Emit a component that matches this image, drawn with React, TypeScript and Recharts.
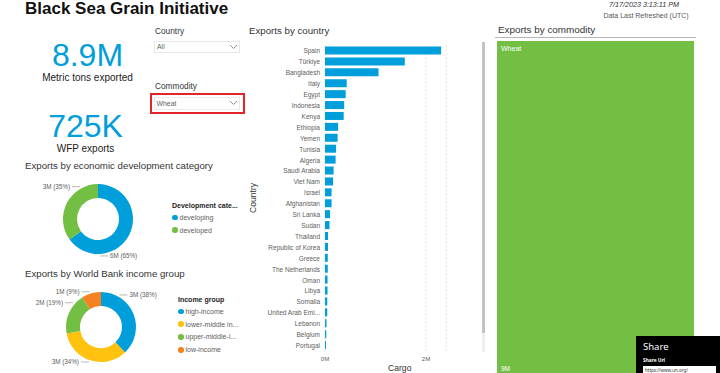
import React from "react";
import { Bar, BarChart, CartesianGrid, Cell, Pie, PieChart, Treemap, XAxis, YAxis } from "recharts";

// cargo figures in millions of metric tons
const countries = [
  "Spain", "Türkiye", "Bangladesh", "Italy", "Egypt", "Indonesia", "Kenya", "Ethiopia",
  "Yemen", "Tunisia", "Algeria", "Saudi Arabia", "Viet Nam", "Israel", "Afghanistan",
  "Sri Lanka", "Sudan", "Thailand", "Republic of Korea", "Greece", "The Netherlands",
  "Oman", "Libya", "Somalia", "United Arab Emi...", "Lebanon", "Belgium", "Portugal"
];
const countryCargo = [
  2.3, 1.58, 1.06, 0.43, 0.41, 0.38, 0.37, 0.26, 0.25, 0.22, 0.21, 0.17, 0.16, 0.13,
  0.13, 0.1, 0.09, 0.06, 0.06, 0.055, 0.055, 0.05, 0.05, 0.045, 0.045, 0.03, 0.025, 0.02
];
const cargoTicks = [0, 2];

const devCategories = ["developing", "developed"];
const devCargo = [5.79, 3.11];

const incomeGroups = ["high-income", "lower-middle income", "upper-middle-income", "low-income"];
const incomeLegend = ["high-income", "lower-middle in...", "upper-middle-i...", "low-income"];
const incomeCargo = [3.38, 3.03, 1.69, 0.8];

const commodities = ["Wheat"];
const commodityCargo = [8.9];

const totalTons = "8.9M";
const wfpExports = "725K";
const refreshed = "7/17/2023 3:13:11 PM";

const FONT = '"Liberation Sans", Arial, sans-serif';
const BLUE = "#009edb";
const GREEN = "#72bf44";
const YELLOW = "#ffc20e";
const ORANGE = "#f58220";
const GREY = "#605e5c";
const DARK = "#252423";

const devColors = [BLUE, GREEN];
const incomeColors = [BLUE, YELLOW, GREEN, ORANGE];

// where the leader line leaves the ring (degrees), per slice
const LABEL_ANGLE: Record<string, number> = {
  developing: -87,
  developed: 119,
  "high-income": 60,
  "lower-middle income": -109,
  "upper-middle-income": 139,
  "low-income": 108
};

const countryData = countries.map((country, i) => ({ country, cargo: countryCargo[i] }));
const devData = devCategories.map((name, i) => ({ name, value: devCargo[i] }));
const incomeData = incomeGroups.map((name, i) => ({ name, value: incomeCargo[i] }));
const commodityData = commodities.map((name, i) => ({ name, value: commodityCargo[i] }));

function donutLabel(props: any) {
  const { cx, cy, outerRadius, value, percent, midAngle } = props;
  const name = props.name ?? props.payload?.name;
  const a = ((LABEL_ANGLE[name] ?? midAngle) * Math.PI) / 180;
  const r = outerRadius + 2;
  const x0 = cx + r * Math.cos(a);
  const y0 = cy - r * Math.sin(a);
  const dir = Math.cos(a) >= 0 ? 1 : -1;
  return (
    <g>
      <line x1={x0} y1={y0} x2={x0 + dir * 8} y2={y0} stroke="#a8a6a4" strokeWidth={0.8} />
      <text
        x={x0 + dir * 10}
        y={y0}
        textAnchor={dir > 0 ? "start" : "end"}
        dominantBaseline="central"
        fontSize={6.3}
        fontFamily={FONT}
        fill={GREY}
      >
        {`${Math.round(value)}M (${Math.round(percent * 100)}%)`}
      </text>
    </g>
  );
}

function CountryTick({ x, y, payload }: any) {
  return (
    <text x={x} y={y} textAnchor="end" dominantBaseline="central" fontSize={6.5} fontFamily={FONT} fill={GREY}>
      {payload.value}
    </text>
  );
}

function Chevron({ x, y }: { x: number; y: number }) {
  return (
    <svg style={{ position: "absolute", left: x, top: y }} width={9} height={6}>
      <polyline points="1,1 4.5,4.5 8,1" fill="none" stroke="#8a8886" strokeWidth={0.9} />
    </svg>
  );
}

function TreemapCell(props: any) {
  const { x, y, width, height, depth, name, value } = props;
  if (depth !== 1) return null;
  return (
    <g>
      <rect x={x} y={y} width={width} height={height} fill={GREEN} stroke="none" />
      <text x={x + 4} y={y + 10} fontSize={7} fontFamily={FONT} fill="#fff">
        {name}
      </text>
      <text x={x + 4} y={y + height - 5} fontSize={6.5} fontFamily={FONT} fill="#fff">
        {`${Math.round(value)}M`}
      </text>
    </g>
  );
}

const abs = (left: number, top: number, extra: React.CSSProperties = {}): React.CSSProperties => ({
  position: "absolute",
  left,
  top,
  ...extra
});

function Legend({ x, y, title, labels, colors }: { x: number; y: number; title: string; labels: string[]; colors: string[] }) {
  return (
    <div style={abs(x, y)}>
      <div style={{ fontSize: 7, fontWeight: "bold", color: DARK, lineHeight: "10px", whiteSpace: "nowrap" }}>{title}</div>
      {labels.map((l, i) => (
        <div key={l} style={{ display: "flex", alignItems: "center", height: 12.8, fontSize: 7, color: GREY, whiteSpace: "nowrap" }}>
          <span style={{ width: 5.5, height: 5.5, borderRadius: "50%", background: colors[i], marginRight: 2, display: "inline-block" }} />
          {l}
        </div>
      ))}
    </div>
  );
}

export default function App() {
  return (
    <div style={{ position: "absolute", left: 0, top: 0, width: 720, height: 373, overflow: "hidden", background: "#fff", fontFamily: FONT }}>
      <div style={abs(25, -1, { fontSize: 17, fontWeight: "bold", color: "#111", lineHeight: "20px", whiteSpace: "nowrap" })}>
        Black Sea Grain Initiative
      </div>

      {/* KPI cards */}
      <div style={abs(0, 39, { width: 175, textAlign: "center", fontSize: 32, color: BLUE, lineHeight: "32px" })}>{totalTons}</div>
      <div style={abs(0, 72, { width: 175, textAlign: "center", fontSize: 10, color: "#222", lineHeight: "12px" })}>
        Metric tons exported
      </div>
      <div style={abs(0, 110, { width: 171, textAlign: "center", fontSize: 32, color: BLUE, lineHeight: "32px" })}>{wfpExports}</div>
      <div style={abs(0, 143, { width: 171, textAlign: "center", fontSize: 10, color: "#222", lineHeight: "12px" })}>WFP exports</div>

      {/* slicers */}
      <div style={abs(155, 26, { fontSize: 8.3, color: "#333", lineHeight: "11px" })}>Country</div>
      <div style={abs(154, 40.5, { width: 86, height: 12, border: "1px solid #e8e8e8", boxSizing: "border-box" })} />
      <div style={abs(157, 42, { fontSize: 6.9, color: GREY, lineHeight: "9px" })}>All</div>
      <Chevron x={229} y={44} />

      <div style={abs(155, 81, { fontSize: 8.3, color: "#333", lineHeight: "11px" })}>Commodity</div>
      <div style={abs(150, 93, { width: 95, height: 21, border: "2px solid #e3242b", boxSizing: "border-box" })} />
      <div style={abs(154, 96.5, { width: 86, height: 13, border: "1px solid #ececec", boxSizing: "border-box" })} />
      <div style={abs(156.5, 98.5, { fontSize: 6.9, color: GREY, lineHeight: "9px" })}>Wheat</div>
      <Chevron x={229} y={100} />

      {/* development donut */}
      <div style={abs(25, 159, { fontSize: 9.7, color: "#333", lineHeight: "13px", whiteSpace: "nowrap" })}>
        Exports by economic development category
      </div>
      <PieChart width={170} height={120} style={abs(0, 150)}>
        <Pie
          data={devData}
          dataKey="value"
          nameKey="name"
          cx={93}
          cy={64}
          innerRadius={21}
          outerRadius={35}
          startAngle={90}
          endAngle={-270}
          stroke="none"
          label={donutLabel}
          labelLine={false}
          isAnimationActive={false}
        >
          {devData.map((d, i) => (
            <Cell key={d.name} fill={devColors[i]} />
          ))}
        </Pie>
      </PieChart>
      <Legend x={172} y={201} title="Development cate..." labels={devCategories} colors={devColors} />

      {/* income donut */}
      <div style={abs(25, 266.5, { fontSize: 9.7, color: "#333", lineHeight: "13px", whiteSpace: "nowrap" })}>
        Exports by World Bank income group
      </div>
      <PieChart width={175} height={105} style={abs(0, 270)}>
        <Pie
          data={incomeData}
          dataKey="value"
          nameKey="name"
          cx={96}
          cy={52}
          innerRadius={21}
          outerRadius={35}
          startAngle={90}
          endAngle={-270}
          stroke="none"
          label={donutLabel}
          labelLine={false}
          isAnimationActive={false}
        >
          {incomeData.map((d, i) => (
            <Cell key={d.name} fill={incomeColors[i]} />
          ))}
        </Pie>
      </PieChart>
      <Legend x={178} y={295} title="Income group" labels={incomeLegend} colors={incomeColors} />

      {/* exports by country */}
      <div style={abs(249, 23.5, { fontSize: 9.7, color: "#333", lineHeight: "13px" })}>Exports by country</div>
      <BarChart
        width={240}
        height={355}
        data={countryData}
        layout="vertical"
        margin={{ top: 25.5, right: 38.8, bottom: 0, left: 0 }}
        style={abs(245, 20)}
      >
        <CartesianGrid horizontal={false} stroke="#e1e1e1" strokeDasharray="2 2" />
        <XAxis
          type="number"
          domain={[0, 2.4]}
          ticks={cargoTicks}
          tickFormatter={(v: number) => `${v}M`}
          height={24}
          axisLine={false}
          tickLine={false}
          tickSize={0}
          tickMargin={6}
          tick={{ fontSize: 6, fill: GREY, fontFamily: FONT }}
        />
        <YAxis
          type="category"
          dataKey="country"
          width={80}
          interval={0}
          axisLine={false}
          tickLine={false}
          tickSize={0}
          tickMargin={5}
          tick={<CountryTick />}
        />
        <Bar dataKey="cargo" fill={BLUE} barSize={8} isAnimationActive={false} />
      </BarChart>
      <div style={abs(388, 363, { fontSize: 8.6, color: "#333", lineHeight: "11px" })}>Cargo</div>
      <div style={abs(253, 198, { fontSize: 8.6, color: "#333", lineHeight: "11px", transform: "translate(-50%, -50%) rotate(-90deg)" })}>
        Country
      </div>
      <div style={abs(481.5, 42, { width: 3, height: 310, background: "#efefef" })} />
      <div style={abs(481.5, 42, { width: 3, height: 291, background: "#c2c2c2" })} />

      {/* exports by commodity */}
      <div style={abs(614, 0, { width: 60, textAlign: "center", fontSize: 7.2, fontStyle: "italic", color: "#333", lineHeight: "9px", whiteSpace: "nowrap", display: "flex", justifyContent: "center" })}>
        {refreshed}
      </div>
      <div style={abs(605, 11, { width: 82, textAlign: "center", fontSize: 7, color: "#555", lineHeight: "9px", whiteSpace: "nowrap", display: "flex", justifyContent: "center" })}>
        Data Last Refreshed (UTC)
      </div>
      <div style={abs(498, 23, { fontSize: 9.9, color: "#333", lineHeight: "13px" })}>Exports by commodity</div>
      <div style={abs(495, 37, { width: 201, height: 1, background: "#b5b5b5" })} />
      <Treemap
        width={197}
        height={335}
        data={commodityData}
        dataKey="value"
        nameKey="name"
        content={<TreemapCell />}
        isAnimationActive={false}
        style={abs(497, 40.7)}
      />

      {/* share panel */}
      <div style={abs(636, 335.5, { width: 84, height: 38, background: "#000" })}>
        <div style={abs(7, 5, { fontSize: 9.5, color: "#fff", fontFamily: '"Noto Sans", sans-serif', lineHeight: "12px" })}>Share</div>
        <div style={abs(7, 21, { fontSize: 4.8, color: "#fff", fontWeight: "bold", fontFamily: '"Noto Sans", sans-serif', lineHeight: "6px" })}>Share Url</div>
        <div style={abs(7, 30, { width: 73, height: 9, background: "#fff", fontSize: 4.5, color: "#333", fontFamily: '"Noto Sans", sans-serif', lineHeight: "8px", paddingLeft: 2, boxSizing: "border-box" })}>
          https://www.un.org/
        </div>
      </div>
    </div>
  );
}
